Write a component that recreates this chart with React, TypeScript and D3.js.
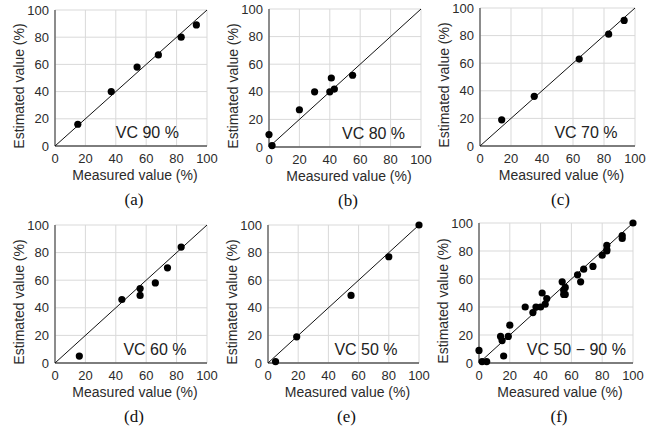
import React from 'react';
import * as d3 from 'd3';

// ---- data ----
const panelIds = ['(a)', '(b)', '(c)', '(d)', '(e)', '(f)'];
const vcLabels = ['VC 90 %', 'VC 80 %', 'VC 70 %', 'VC 60 %', 'VC 50 %', 'VC 50 \u2212 90 %'];
const tickValues = [0, 20, 40, 60, 80, 100];

const measuredA = [15, 37, 54, 68, 83, 93];
const estimatedA = [16, 40, 58, 67, 80, 89];
const measuredB = [0, 2, 20, 30, 40, 41, 43, 55];
const estimatedB = [9, 1, 27, 40, 40, 50, 42, 52];
const measuredC = [14, 35, 64, 83, 93];
const estimatedC = [19, 36, 63, 81, 91];
const measuredD = [16, 44, 56, 56, 66, 74, 83];
const estimatedD = [5, 46, 54, 49, 58, 69, 84];
const measuredE = [5, 19, 55, 80, 100];
const estimatedE = [1, 19, 49, 77, 100];
const measuredF = [...measuredA, ...measuredB, ...measuredC, ...measuredD, ...measuredE];
const estimatedF = [...estimatedA, ...estimatedB, ...estimatedC, ...estimatedD, ...estimatedE];

const measuredSets = [measuredA, measuredB, measuredC, measuredD, measuredE, measuredF];
const estimatedSets = [estimatedA, estimatedB, estimatedC, estimatedD, estimatedE, estimatedF];
const labelX = [40, 48, 48, 45, 44, 31];

// ---- layout ----
const frames: [number, number, number, number][] = [
  [55, 10, 207, 146],
  [269, 9, 421, 147],
  [480, 8, 635, 146],
  [55, 225, 207, 363],
  [268, 225, 419, 363],
  [479, 223, 633, 363],
];

const SANS = '"Liberation Sans", Arial, Helvetica, sans-serif';
const SERIF = '"Liberation Serif", "Times New Roman", serif';

function Panel({ i }: { i: number }) {
  const [l, t, r, b] = frames[i];
  const x = d3.scaleLinear().domain([0, 100]).range([l, r]);
  const y = d3.scaleLinear().domain([0, 100]).range([b, t]);
  const xs = measuredSets[i];
  const ys = estimatedSets[i];
  const diag = d3.line<number>().x((d) => x(d)).y((d) => y(d))([0, 100]) || '';
  const cx = (l + r) / 2;
  const cy = (t + b) / 2;
  return (
    <g>
      {tickValues.map((v) => (
        <g key={'g' + v}>
          <line x1={x(v)} x2={x(v)} y1={t} y2={b} stroke="#d9d9d9" strokeWidth={1} />
          <line x1={l} x2={r} y1={y(v)} y2={y(v)} stroke="#d9d9d9" strokeWidth={1} />
        </g>
      ))}
      <line x1={l} x2={l} y1={t} y2={b} stroke="#595959" strokeWidth={1.3} />
      <line x1={l} x2={r} y1={b} y2={b} stroke="#595959" strokeWidth={1.3} />
      {tickValues.map((v) => (
        <text key={'xt' + v} x={x(v)} y={b + 16.5} textAnchor="middle" fontSize={13} fontFamily={SANS} fill="#2b2b2b">
          {v}
        </text>
      ))}
      {tickValues.map((v) => (
        <text key={'yt' + v} x={l - 6} y={y(v) + 4.5} textAnchor="end" fontSize={13} fontFamily={SANS} fill="#2b2b2b">
          {v}
        </text>
      ))}
      <path d={diag} stroke="#111" strokeWidth={1} fill="none" />
      {xs.map((v, k) => (
        <circle key={'p' + k} cx={x(v)} cy={y(ys[k])} r={3.6} fill="#000" />
      ))}
      <text x={x(labelX[i])} y={y(0) - 8.5} fontSize={16} fontFamily={SANS} fill="#222">
        {vcLabels[i]}
      </text>
      <text x={cx + 4} y={b + 34} textAnchor="middle" fontSize={14} fontFamily={SANS} fill="#2b2b2b">
        Measured value (%)
      </text>
      <text
        transform={`translate(${l - 31},${cy + 8}) rotate(-90)`}
        textAnchor="middle"
        fontSize={14}
        fontFamily={SANS}
        fill="#2b2b2b"
      >
        Estimated value (%)
      </text>
      <text x={cx + 3} y={b + 59} textAnchor="middle" fontSize={17} fontFamily={SERIF} fill="#111">
        {panelIds[i]}
      </text>
    </g>
  );
}

export default function App() {
  return (
    <div style={{ position: 'absolute', left: 0, top: 0 }}>
      <svg width={656} height={428} style={{ display: 'block', background: '#fff' }}>
        {panelIds.map((_, i) => (
          <Panel key={i} i={i} />
        ))}
      </svg>
    </div>
  );
}
